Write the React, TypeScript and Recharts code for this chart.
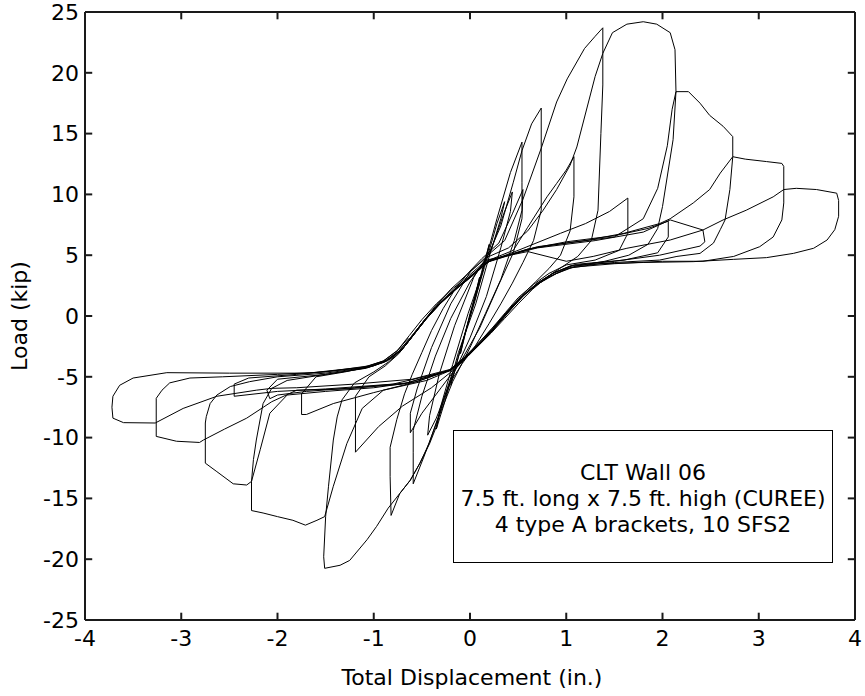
import React from "react";
import { LineChart, Line, XAxis, YAxis, ReferenceLine } from "recharts";

// axis ticks
const xTicks = [-4, -3, -2, -1, 0, 1, 2, 3, 4];
const yTicks = [-25, -20, -15, -10, -5, 0, 5, 10, 15, 20, 25];

// load path as [displacement (in.), load (kip)]
const elastic = [
  [0, 0], [0.05, 1.6], [0.1, 3.2], [0.06, 1.8], [0, 0.2], [-0.05, -1.5], [-0.1, -3.1],
  [-0.05, -1.4], [0.02, 0.6], [0.12, 3.6], [0.2, 5.9], [0.15, 4.3], [0.05, 1.2],
  [-0.08, -2.2], [-0.2, -5.7], [-0.14, -3.9], [-0.02, -0.5], [0.15, 4.0], [0.28, 7.6],
  [0.36, 9.4], [0.32, 8.0], [0.2, 4.9], [0.06, 1.0], [-0.12, -3.0], [-0.26, -7.0],
  [-0.35, -9.3], [-0.31, -7.6], [-0.18, -4.0], [-0.02, 0.2],
];

const cycle1 = [
  [0.12, 3.4], [0.28, 8.0], [0.42, 11.8], [0.54, 14.3], [0.54, 11.0], [0.54, 8.7],
  [0.46, 6.2], [0.32, 3.0], [0.16, 0.2], [0.0, -2.6], [-0.18, -5.4], [-0.34, -8.6],
  [-0.48, -11.6], [-0.59, -13.8], [-0.59, -11.2], [-0.59, -9.4], [-0.5, -6.6],
  [-0.36, -3.3], [-0.2, -0.2], [0.0, 2.8],
];

const trail1 = [
  [0.2, 5.0], [0.35, 8.4], [0.44, 10.2], [0.42, 8.6], [0.32, 5.6], [0.17, 1.6], [0.0, -1.8],
  [-0.2, -5.3], [-0.35, -8.4], [-0.44, -9.8], [-0.42, -8.2], [-0.32, -4.8], [-0.16, -0.8],
  [0.04, 3.2],
];

const cycle2 = [
  [0.2, 5.2], [0.32, 7.4], [0.45, 11.0], [0.54, 13.6], [0.64, 15.8], [0.74, 17.1],
  [0.74, 12.5], [0.74, 8.7], [0.66, 6.2], [0.55, 4.4], [0.44, 2.7], [0.32, 1.0],
  [0.2, -0.6], [0.06, -2.4], [-0.08, -3.9], [-0.2, -5.4], [-0.3, -7.6], [-0.42, -10.4],
  [-0.52, -12.1], [-0.62, -13.5], [-0.73, -14.6], [-0.82, -16.4], [-0.83, -13.2],
  [-0.83, -10.8], [-0.76, -8.5], [-0.68, -6.4], [-0.6, -4.8], [-0.5, -3.0], [-0.4, -1.2],
  [-0.28, 0.6], [-0.14, 2.4], [0.0, 3.7], [0.12, 4.7],
];

const trail2 = [
  [0.3, 6.0], [0.44, 8.4], [0.55, 10.4], [0.54, 8.0], [0.45, 5.2], [0.3, 2.6], [0.1, -1.0],
  [-0.1, -3.8], [-0.3, -5.9], [-0.5, -8.0], [-0.62, -9.6], [-0.62, -8.0], [-0.55, -6.0],
  [-0.4, -2.6], [-0.2, 1.0], [0.0, 3.6], [0.17, 4.9],
];

const cycle3 = [
  [0.36, 6.2], [0.55, 9.6], [0.74, 13.8], [0.9, 17.6], [1.01, 19.5], [1.19, 22.0],
  [1.3, 23.0], [1.38, 23.7], [1.38, 21.6], [1.38, 19.0], [1.36, 15.0], [1.33, 8.7],
  [1.26, 6.2], [1.12, 4.9], [0.95, 4.0], [0.8, 3.2], [0.65, 2.2], [0.5, 1.0], [0.36, -0.2],
  [0.22, -1.4], [0.08, -2.5], [-0.05, -3.5], [-0.18, -4.6], [-0.28, -7.0], [-0.35, -9.1],
  [-0.42, -10.5], [-0.52, -12.1], [-0.62, -13.5], [-0.73, -14.6], [-0.85, -15.8],
  [-0.97, -17.3], [-1.07, -18.4], [-1.25, -20.1], [-1.35, -20.5], [-1.51, -20.75],
  [-1.52, -19.8], [-1.5, -16.5], [-1.47, -14.0], [-1.42, -10.2], [-1.38, -8.3],
  [-1.33, -6.9], [-1.2, -5.5], [-1.0, -4.6], [-0.85, -3.8], [-0.72, -2.9], [-0.6, -1.7],
  [-0.48, -0.4], [-0.33, 1.0], [-0.15, 2.3], [0.02, 3.4], [0.17, 4.5], [0.45, 5.4],
];

const trail3 = [
  [0.6, 7.3], [0.8, 9.8], [0.9, 10.9], [1.0, 12.0], [1.08, 13.1], [1.08, 9.8], [1.04, 7.0],
  [0.94, 5.0], [0.82, 3.9], [0.68, 2.8], [0.54, 1.7], [0.41, 0.6], [0.28, -0.6],
  [0.14, -1.8], [0.0, -3.0], [-0.15, -4.3], [-0.4, -5.9], [-0.7, -7.4], [-0.95, -9.1],
  [-1.19, -11.2], [-1.19, -8.6], [-1.19, -6.6], [-1.05, -5.0], [-0.88, -4.1],
  [-0.74, -3.1], [-0.62, -1.9], [-0.5, -0.6], [-0.36, 0.8], [-0.2, 2.2], [-0.02, 3.5],
  [0.17, 4.8], [0.4, 5.6],
];

const cycle4 = [
  [0.6, 7.0], [0.76, 8.7], [0.9, 10.4], [1.04, 12.4], [1.11, 13.9], [1.3, 19.7],
  [1.38, 21.6], [1.48, 23.3], [1.63, 24.0], [1.8, 24.2], [1.94, 24.0], [2.08, 23.3],
  [2.13, 21.9], [2.14, 18.45], [2.11, 14.5], [2.0, 9.0], [1.95, 7.2], [1.85, 5.9],
  [1.65, 5.0], [1.4, 4.5], [1.1, 4.1], [0.9, 3.5], [0.72, 2.7], [0.56, 1.7], [0.42, 0.5],
  [0.28, -0.8], [0.13, -2.1], [-0.02, -3.3], [-0.18, -4.4], [-0.45, -5.3], [-0.9, -6.1],
  [-1.12, -7.6], [-1.28, -10.5], [-1.42, -14.0], [-1.51, -16.5], [-1.59, -16.8],
  [-1.71, -17.2], [-1.84, -16.8], [-2.0, -16.5], [-2.15, -16.2], [-2.27, -16.0],
  [-2.27, -13.6], [-2.25, -11.8], [-2.22, -10.2], [-2.15, -7.2], [-2.06, -5.95],
  [-1.9, -5.3], [-1.5, -4.8], [-1.1, -4.3], [-0.9, -3.8], [-0.74, -2.9], [-0.62, -1.8],
  [-0.5, -0.6], [-0.36, 0.7], [-0.18, 2.0], [0.0, 3.2], [0.17, 4.4], [0.5, 5.4],
];

const trail4 = [
  [0.94, 6.8], [1.2, 7.6], [1.45, 8.6], [1.64, 9.7], [1.64, 6.8], [1.55, 5.4], [1.3, 4.6],
  [1.0, 4.2], [0.82, 3.5], [0.66, 2.6], [0.5, 1.5], [0.37, 0.3], [0.23, -1.0], [0.08, -2.3],
  [-0.06, -3.4], [-0.22, -4.5], [-0.6, -5.5], [-1.0, -6.3], [-1.42, -7.2], [-1.7, -8.1],
  [-1.75, -8.1], [-1.75, -6.4], [-1.6, -5.0], [-1.3, -4.6], [-1.0, -4.1], [-0.82, -3.5],
  [-0.68, -2.5], [-0.56, -1.3], [-0.43, 0.0], [-0.28, 1.3], [-0.1, 2.6], [0.07, 3.7],
  [0.22, 4.6], [0.6, 5.5],
];

const cycle5 = [
  [1.0, 6.0], [1.5, 6.5], [1.8, 8.0], [1.95, 10.5], [2.05, 14.0], [2.1, 17.0],
  [2.14, 18.45], [2.27, 18.45], [2.39, 17.5], [2.49, 16.5], [2.63, 15.6], [2.73, 14.75],
  [2.73, 13.1], [2.7, 10.4], [2.65, 7.9], [2.6, 7.1], [2.53, 6.0], [2.39, 5.15],
  [2.15, 4.9], [1.97, 4.6], [1.5, 4.4], [1.05, 4.1], [0.86, 3.5], [0.7, 2.7], [0.55, 1.7],
  [0.41, 0.5], [0.27, -0.8], [0.12, -2.1], [-0.03, -3.3], [-0.2, -4.4], [-0.55, -5.4],
  [-1.0, -5.9], [-1.5, -6.2], [-1.9, -6.5], [-2.08, -8.0], [-2.18, -11.0], [-2.27, -13.6],
  [-2.32, -13.9], [-2.46, -13.8], [-2.63, -12.8], [-2.75, -12.1], [-2.75, -8.8],
  [-2.74, -8.28], [-2.7, -7.2], [-2.63, -6.5], [-2.49, -5.8], [-2.29, -5.4], [-2.0, -5.0],
  [-1.5, -4.7], [-1.05, -4.2], [-0.86, -3.7], [-0.71, -2.8], [-0.59, -1.6], [-0.46, -0.3],
  [-0.31, 1.0], [-0.13, 2.3], [0.04, 3.4], [0.2, 4.5], [0.6, 5.5],
];

const trail5 = [
  [1.0, 6.1], [1.5, 6.6], [1.85, 7.2], [2.06, 7.8], [2.06, 6.5], [1.95, 5.2], [1.6, 4.6],
  [1.1, 4.25], [0.88, 3.6], [0.72, 2.8], [0.57, 1.8], [0.43, 0.6], [0.29, -0.7],
  [0.14, -2.0], [-0.01, -3.2], [-0.19, -4.4], [-0.65, -5.5], [-1.2, -5.9], [-1.7, -6.2],
  [-2.0, -6.5], [-2.08, -6.8], [-2.11, -6.1], [-2.0, -5.2], [-1.5, -4.8], [-1.08, -4.3],
  [-0.89, -3.8], [-0.74, -2.9], [-0.62, -1.8], [-0.49, -0.5], [-0.34, 0.8], [-0.16, 2.1],
  [0.01, 3.2], [0.17, 4.4], [0.7, 5.7],
];

const cycle6 = [
  [1.2, 6.2], [1.6, 6.8], [1.97, 7.6], [2.08, 8.0], [2.32, 9.3], [2.49, 10.4],
  [2.6, 11.75], [2.73, 13.1], [2.86, 12.9], [3.08, 12.7], [3.24, 12.55], [3.26, 12.3],
  [3.26, 9.3], [3.24, 7.9], [3.15, 6.5], [3.01, 5.7], [2.74, 4.9], [2.42, 4.5], [2.0, 4.5],
  [1.5, 4.3], [1.05, 4.0], [0.84, 3.3], [0.68, 2.5], [0.53, 1.5], [0.39, 0.3], [0.25, -1.0],
  [0.1, -2.3], [-0.05, -3.4], [-0.22, -4.5], [-0.7, -5.6], [-1.3, -6.0], [-1.8, -6.1],
  [-2.06, -7.05], [-2.32, -8.4], [-2.55, -9.3], [-2.77, -10.2], [-2.81, -10.4],
  [-3.05, -10.3], [-3.26, -9.9], [-3.26, -6.77], [-3.2, -6.1], [-3.12, -5.5],
  [-2.91, -5.1], [-2.57, -5.0], [-2.0, -4.8], [-1.5, -4.6], [-1.05, -4.1], [-0.85, -3.6],
  [-0.7, -2.7], [-0.58, -1.5], [-0.45, -0.2], [-0.3, 1.1], [-0.12, 2.4], [0.05, 3.5],
  [0.2, 4.6], [0.7, 5.6],
];

const trail6 = [
  [1.3, 6.2], [1.8, 6.9], [2.08, 7.9], [2.42, 7.07], [2.44, 6.1], [2.39, 5.75], [1.97, 5.0],
  [1.5, 4.5], [1.05, 4.15], [0.86, 3.5], [0.7, 2.7], [0.55, 1.7], [0.41, 0.5], [0.27, -0.8],
  [0.12, -2.1], [-0.03, -3.3], [-0.21, -4.5], [-0.8, -5.6], [-1.5, -6.0], [-2.0, -6.2],
  [-2.45, -6.6], [-2.45, -5.6], [-2.3, -5.1], [-1.8, -4.8], [-1.1, -4.2], [-0.9, -3.7],
  [-0.75, -2.8], [-0.63, -1.6], [-0.5, -0.3], [-0.35, 1.0], [-0.17, 2.3], [0.0, 3.4],
  [0.17, 4.6], [0.6, 5.3],
];

const cycle7 = [
  [1.0, 4.5], [1.28, 4.9], [1.63, 5.57], [2.08, 6.25], [2.42, 7.07], [2.63, 7.9],
  [2.87, 8.7], [3.15, 9.8], [3.26, 10.4], [3.39, 10.5], [3.6, 10.4], [3.81, 10.1],
  [3.83, 9.5], [3.83, 8.2], [3.79, 7.1], [3.71, 6.25], [3.57, 5.57], [3.36, 5.15],
  [3.08, 4.8], [2.74, 4.66], [2.32, 4.47], [1.8, 4.4], [1.35, 4.3], [1.0, 3.9], [0.82, 3.2],
  [0.66, 2.4], [0.51, 1.4], [0.37, 0.2], [0.23, -1.1], [0.08, -2.4], [-0.07, -3.5],
  [-0.21, -4.4], [-0.6, -5.2], [-1.2, -5.6], [-1.8, -5.9], [-2.06, -5.95], [-2.22, -6.1],
  [-2.63, -6.6], [-2.98, -7.6], [-3.27, -8.8], [-3.6, -8.77], [-3.71, -8.4], [-3.72, -7.5],
  [-3.71, -6.6], [-3.64, -5.7], [-3.5, -5.1], [-3.15, -4.66], [-2.5, -4.7], [-1.66, -4.7],
  [-1.1, -4.25], [-0.9, -3.7], [-0.76, -2.9], [-0.64, -1.8],
];

const cycles = [
  elastic, cycle1, trail1, cycle2, trail2, cycle3, trail3, cycle4, trail4,
  cycle5, trail5, cycle6, trail6, cycle7,
];

const data = cycles.flat().map(([x, y]) => ({ x, y }));

const FONT = '"DejaVu Sans", Verdana, sans-serif';
const AXIS = "#1a1a1a";
const tickFont = { fill: "#000", fontSize: 22, fontFamily: FONT };

// inward tick length (about 7 px) in data units of each axis
const TICK_DX = 0.075;
const TICK_DY = 0.6;
const [X_MIN, X_MAX] = [xTicks[0], xTicks[xTicks.length - 1]];
const [Y_MIN, Y_MAX] = [yTicks[0], yTicks[yTicks.length - 1]];

// one short segment per tick and side, in data coordinates
const tickSegments = [
  ...xTicks.slice(1, -1).map((v) => [{ x: v, y: Y_MIN }, { x: v, y: Y_MIN + TICK_DY }]),
  ...xTicks.slice(1, -1).map((v) => [{ x: v, y: Y_MAX }, { x: v, y: Y_MAX - TICK_DY }]),
  ...yTicks.slice(1, -1).map((v) => [{ x: X_MIN, y: v }, { x: X_MIN + TICK_DX, y: v }]),
  ...yTicks.slice(1, -1).map((v) => [{ x: X_MAX, y: v }, { x: X_MAX - TICK_DX, y: v }]),
];

export default function App() {
  return (
    <div
      style={{
        position: "absolute",
        left: 0,
        top: 0,
        width: 865,
        height: 696,
        fontFamily: FONT,
        color: "#000",
      }}
    >
      <LineChart
        width={865}
        height={696}
        data={data}
        margin={{ top: 12, right: 10, bottom: 12, left: 0 }}
      >
        <XAxis
          dataKey="x"
          type="number"
          domain={[X_MIN, X_MAX]}
          ticks={xTicks}
          interval={0}
          allowDataOverflow
          height={64}
          tickLine={false}
          tickSize={0}
          tickMargin={10}
          axisLine={{ stroke: AXIS, strokeWidth: 2 }}
          tick={tickFont}
        />
        <YAxis
          type="number"
          domain={[Y_MIN, Y_MAX]}
          ticks={yTicks}
          interval={0}
          allowDataOverflow
          width={85}
          tickLine={false}
          tickSize={0}
          tickMargin={6}
          axisLine={{ stroke: AXIS, strokeWidth: 2 }}
          tick={tickFont}
        />
        {/* top and right edges of the frame */}
        <ReferenceLine y={Y_MAX} stroke={AXIS} strokeWidth={2} ifOverflow="extendDomain" />
        <ReferenceLine x={X_MAX} stroke={AXIS} strokeWidth={2} ifOverflow="extendDomain" />

        {/* inward tick marks on all four sides */}
        {tickSegments.map((seg, i) => (
          <ReferenceLine
            key={`tick${i}`}
            segment={seg}
            stroke={AXIS}
            strokeWidth={2}
            ifOverflow="extendDomain"
          />
        ))}

        <Line
          dataKey="y"
          type="linear"
          stroke="#000"
          strokeWidth={1}
          dot={false}
          activeDot={false}
          isAnimationActive={false}
        />
      </LineChart>

      <div
        style={{
          position: "absolute",
          left: 272,
          top: 665,
          width: 400,
          height: 26,
          textAlign: "center",
          fontSize: 22,
          lineHeight: "26px",
        }}
      >
        Total Displacement (in.)
      </div>
      <div
        style={{
          position: "absolute",
          left: -80,
          top: 303,
          width: 200,
          height: 26,
          textAlign: "center",
          fontSize: 22,
          lineHeight: "26px",
          transform: "rotate(-90deg)",
        }}
      >
        Load (kip)
      </div>

      <div
        style={{
          position: "absolute",
          left: 453,
          top: 430,
          width: 380,
          height: 133,
          boxSizing: "border-box",
          border: "1px solid #000",
          background: "#fff",
          paddingTop: 5,
          display: "flex",
          flexDirection: "column",
          justifyContent: "center",
          alignItems: "center",
          fontSize: 22,
          lineHeight: "25.7px",
          whiteSpace: "nowrap",
        }}
      >
        <div>CLT Wall 06</div>
        <div>7.5 ft. long x 7.5 ft. high (CUREE)</div>
        <div>4 type A brackets, 10 SFS2</div>
      </div>
    </div>
  );
}
